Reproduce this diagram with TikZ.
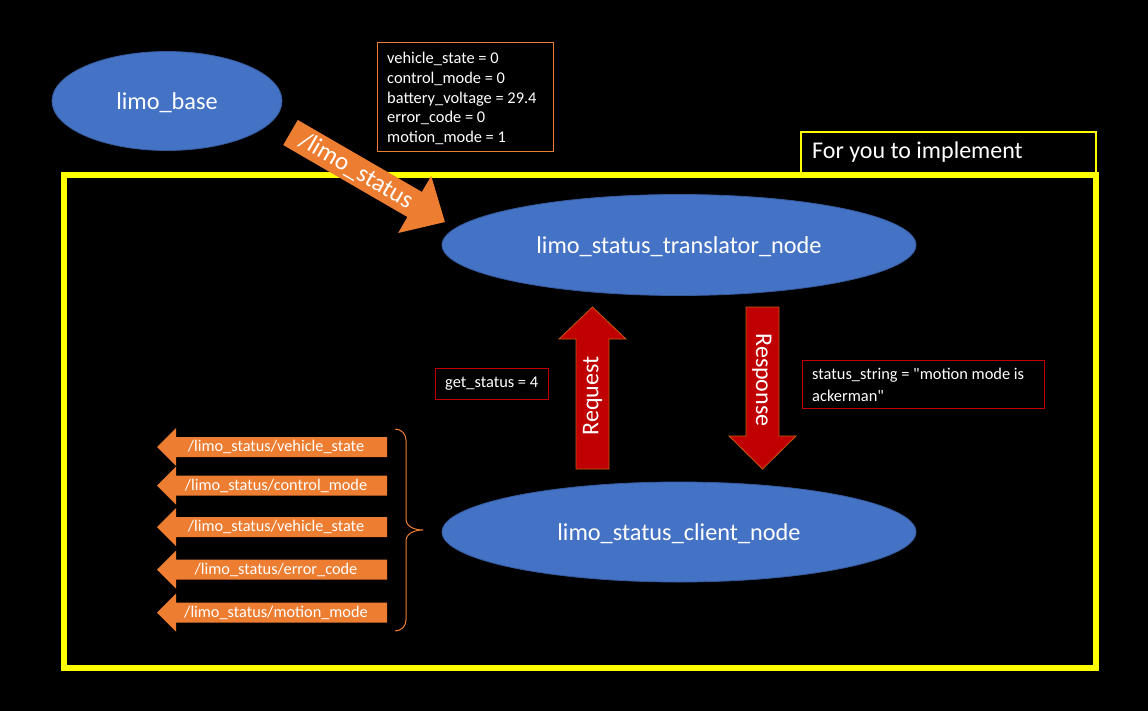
\documentclass[tikz,border=0pt]{standalone}
\usepackage{fontspec}
\setmainfont{Carlito}[Ligatures=TeXOff]
\usetikzlibrary{shapes.geometric}
\definecolor{nodeblue}{HTML}{4472C4}
\definecolor{topicorange}{HTML}{ED7D31}
\definecolor{srvred}{HTML}{C00000}
\definecolor{srvedge}{HTML}{C55A11}
\definecolor{frameyellow}{HTML}{FFFF00}
\begin{document}
\begin{tikzpicture}[x=1pt,y=-1pt,
  rosnode/.style={ellipse, fill=nodeblue, draw=nodeblue!80!black, line width=0.8pt, inner sep=0pt, text=white, text height=20pt, text depth=3pt, font=\fontsize{24.3}{29}\selectfont},
  bigtext/.style={text=white, font=\fontsize{24}{29}\selectfont, inner sep=0pt},
  smalltext/.style={text=white, font=\fontsize{16.3}{19.8}\selectfont, inner sep=0pt},
  infotext/.style={text=white, anchor=west, align=left, inner sep=0pt, font=\fontsize{16.4}{19.8}\selectfont},
]
\fill[black] (0,0) rectangle (1148,711);
\useasboundingbox (0,0) rectangle (1148,711);

% frame
\draw[frameyellow, line width=6pt] (64,175) rectangle (1096,668);
\draw[frameyellow, line width=1.3pt] (801,132) rectangle (1096,175);
\node[bigtext, anchor=west] (impl) at (812,152) {For you to implement};

% nodes
\node[rosnode, minimum width=230pt, minimum height=99pt] (base) at (167,101) {limo\_base};
\node[rosnode, minimum width=474pt, minimum height=101pt] (trans) at (679,245) {limo\_status\_translator\_node};
\node[rosnode, minimum width=474pt, minimum height=100pt] (client) at (679,532) {limo\_status\_client\_node};

% info box
\draw[topicorange, line width=0.9pt] (377,42) rectangle (553,151);
\node[infotext] (info) at (387,98.5)
  {vehicle\_state = 0\\control\_mode = 0\\battery\_voltage = 29.4\\error\_code = 0\\motion\_mode = 1};

% diagonal topic arrow
\begin{scope}[shift={(290.5,132.5)}, rotate=-30.1]
  \fill[topicorange] (0,-14.5) -- (143.5,-14.5) -- (143.5,-33) -- (178.5,0) -- (143.5,33) -- (143.5,14.5) -- (0,14.5) -- cycle;
  \coordinate (diagtip) at (178.5,0);
\end{scope}
\node[bigtext, font=\fontsize{25}{30}\selectfont, rotate=-30.1] (topic) at (356,171) {/limo\_status};

% service arrows
\fill[srvred] (576,469) -- (576,339) -- (559,339) -- (592.5,307) -- (626,339) -- (609,339) -- (609,469) -- cycle;
\draw[srvedge, line width=0.8pt] (576,469) -- (576,339) -- (559,339) -- (592.5,307) -- (626,339) -- (609,339) -- (609,469) -- cycle;
\node[bigtext, rotate=90] (req) at (592.5,396) {Request};
\fill[srvred] (746,307) -- (779,307) -- (779,436) -- (796,436) -- (762.5,469) -- (729,436) -- (746,436) -- cycle;
\draw[srvedge, line width=0.8pt] (746,307) -- (779,307) -- (779,436) -- (796,436) -- (762.5,469) -- (729,436) -- (746,436) -- cycle;
\node[bigtext, rotate=-90] (resp) at (762,380) {Response};

% value boxes
\draw[srvred, line width=1pt] (435,368) rectangle (548,399);
\node[infotext] (getst) at (445,384) {get\_status = 4};
\draw[srvred, line width=1pt] (802,360) rectangle (1044,408);
\node[infotext, font=\fontsize{16.4}{22}\selectfont] (strbox) at (812,384.5) {status\_string = "motion mode is\\ackerman"};

% left topic arrows
\foreach \c/\t/\nm in {447/vehicle\_state/ta, 485.5/control\_mode/tb, 527/vehicle\_state/tc, 569.5/error\_code/td, 612.5/motion\_mode/te}{
  \fill[topicorange] (157,\c) -- (176,\c-19) -- (176,\c-10) -- (387,\c-10) -- (387,\c+10) -- (176,\c+10) -- (176,\c+19) -- cycle;
  \node[smalltext] (\nm) at (276,\c) {/limo\_status/\t};
}

% brace
\draw[topicorange, line width=1pt] (395,429) to[out=0,in=90] (406,440) -- (406,519) to[out=-90,in=180] (423,530) to[out=180,in=90] (406,541) -- (406,620) to[out=-90,in=0] (395,631);
\end{tikzpicture}
\end{document}
